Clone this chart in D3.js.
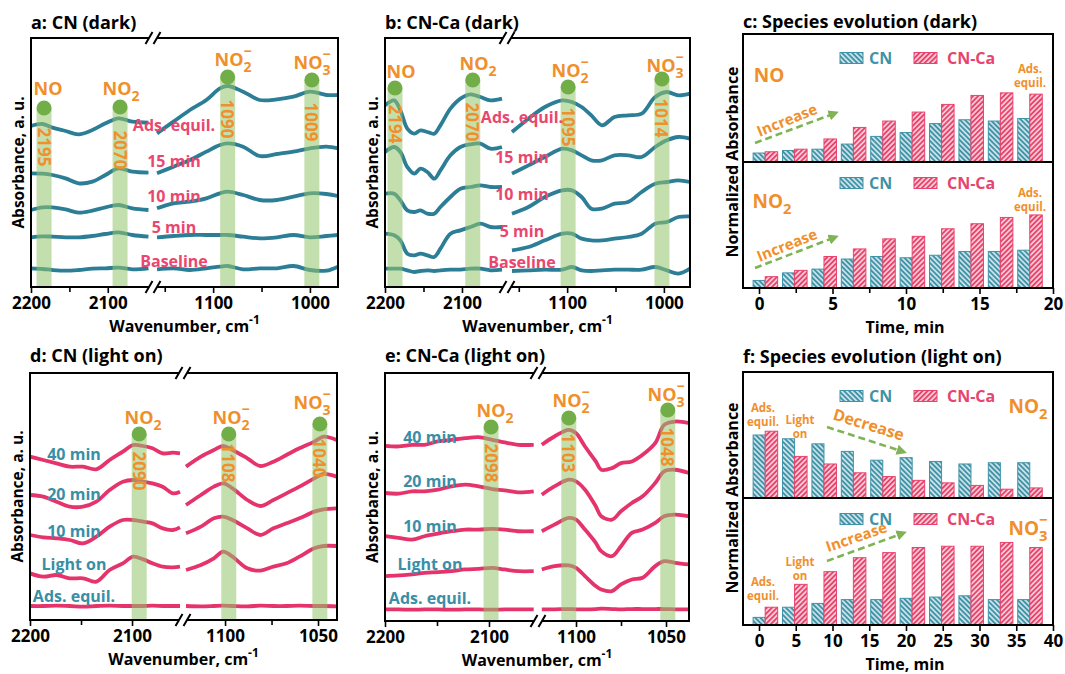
<!DOCTYPE html>
<html>
<head>
<meta charset="utf-8">
<script src="https://cdnjs.cloudflare.com/ajax/libs/d3/7.8.5/d3.min.js"></script>
<style>
  body { margin: 0; background: #fff; }
  svg { font-family: "Open Sans", sans-serif; font-weight: 700; }
</style>
</head>
<body>
<script>
/*global d3*/

// ---------- data: in-situ spectra (a.u.), one row per trace ----------
const darkLabels = ["Baseline", "5 min", "10 min", "15 min", "Ads. equil."]
const lightLabels = ["Ads. equil.", "Light on", "10 min", "20 min", "40 min"]

// a: CN (dark)
const aWnLeft = [2200, 2185, 2172, 2155, 2138, 2120, 2103, 2086, 2068, 2047]
const aWnRight = [1158, 1141, 1124, 1107, 1093, 1085, 1069, 1052, 1034, 1017, 1000, 983, 971]
const aLeft = [
    [0.56, 0.54, 0.51, 0.49, 0.51, 0.55, 0.56, 0.58, 0.53, 0.56],
    [1.49, 1.52, 1.51, 1.49, 1.49, 1.53, 1.59, 1.64, 1.56, 1.51],
    [2.31, 2.39, 2.39, 2.33, 2.23, 2.29, 2.39, 2.46, 2.36, 2.31],
    [3.41, 3.40, 3.36, 3.26, 3.11, 3.16, 3.36, 3.56, 3.46, 3.43],
    [4.83, 4.89, 4.78, 4.68, 4.58, 4.71, 4.91, 5.06, 4.96, 4.93],
]
const aRight = [
    [0.53, 0.56, 0.51, 0.56, 0.61, 0.63, 0.53, 0.56, 0.56, 0.63, 0.51, 0.49, 0.61],
    [1.49, 1.53, 1.56, 1.56, 1.56, 1.56, 1.51, 1.46, 1.49, 1.56, 1.49, 1.53, 1.56],
    [2.36, 2.51, 2.56, 2.66, 2.81, 2.86, 2.76, 2.61, 2.61, 2.71, 2.81, 2.79, 2.73],
    [3.41, 3.61, 3.81, 4.06, 4.26, 4.31, 4.21, 3.93, 3.99, 4.06, 4.16, 4.21, 4.16],
    [4.61, 4.96, 5.31, 5.61, 5.96, 6.03, 5.86, 5.61, 5.63, 5.71, 5.86, 5.76, 5.76],
]
const aBandWn = [2183, 2084, 1085, 998]
const aBandText = ["2195", "2070", "1090", "1009"]

// b: CN-Ca (dark)
const bWnLeft = [2200, 2188, 2180, 2171, 2162, 2154, 2145, 2136, 2128, 2115, 2102, 2089, 2076, 2063, 2048]
const bWnRight = [1157, 1140, 1123, 1105, 1095, 1085, 1075, 1064, 1051, 1037, 1023, 1009, 997, 985, 973]
const bLeft = [
    [0.55, 0.55, 0.55, 0.50, 0.45, 0.48, 0.50, 0.48, 0.50, 0.52, 0.52, 0.55, 0.55, 0.50, 0.52],
    [1.60, 1.55, 1.40, 1.00, 0.95, 1.00, 0.95, 0.90, 1.15, 1.60, 1.70, 1.80, 1.90, 1.80, 1.80],
    [2.80, 2.80, 2.60, 2.30, 2.25, 2.30, 2.20, 2.20, 2.40, 2.70, 2.95, 3.00, 3.05, 3.00, 3.00],
    [4.05, 4.20, 4.05, 3.60, 3.40, 3.55, 3.45, 3.25, 3.50, 3.95, 4.20, 4.28, 4.30, 4.15, 4.20],
    [5.45, 5.60, 5.30, 4.75, 4.60, 4.70, 4.65, 4.60, 4.85, 5.35, 5.65, 5.78, 5.70, 5.60, 5.65],
]
const bRight = [
    [0.48, 0.50, 0.52, 0.52, 0.60, 0.50, 0.48, 0.50, 0.52, 0.52, 0.52, 0.60, 0.50, 0.40, 0.55],
    [1.10, 1.20, 1.40, 1.60, 1.60, 1.45, 1.40, 1.40, 1.45, 1.50, 1.60, 1.90, 1.95, 2.10, 2.12],
    [2.20, 2.40, 2.70, 2.90, 2.90, 2.70, 2.35, 2.35, 2.50, 2.55, 2.85, 3.10, 3.15, 3.20, 3.15],
    [3.40, 3.65, 3.90, 4.15, 4.10, 3.95, 3.80, 3.80, 3.95, 3.95, 3.90, 4.20, 4.40, 4.50, 4.45],
    [4.65, 5.05, 5.40, 5.60, 5.55, 5.40, 5.15, 4.85, 5.10, 5.15, 5.20, 5.70, 5.85, 5.75, 5.80],
]
const bBandWn = [2187, 2086, 1099, 1002]
const bBandText = ["2194", "2070", "1095", "1014"]

// d: CN (light on)
const dWnLeft = [2200, 2187, 2174, 2161, 2148, 2135, 2122, 2109, 2099, 2089, 2080, 2070, 2060, 2053]
const dWnRight = [1121, 1113, 1106, 1101, 1096, 1088, 1081, 1074, 1067, 1060, 1052, 1047, 1040]
const dLeft = [
    [0.42, 0.42, 0.43, 0.42, 0.40, 0.42, 0.43, 0.42, 0.42, 0.42, 0.43, 0.42, 0.42, 0.42],
    [1.40, 1.30, 1.35, 1.25, 1.25, 1.15, 1.50, 1.70, 1.90, 1.82, 1.70, 1.60, 1.58, 1.60],
    [2.55, 2.48, 2.45, 2.40, 2.30, 2.50, 2.80, 3.00, 3.00, 2.95, 2.90, 2.75, 2.70, 2.78],
    [3.75, 3.70, 3.55, 3.40, 3.40, 3.55, 3.90, 4.15, 4.20, 4.15, 4.10, 4.00, 3.80, 3.85],
    [4.90, 4.80, 4.70, 4.60, 4.60, 4.52, 4.80, 5.05, 5.25, 5.22, 5.15, 5.00, 5.02, 5.00],
]
const dRight = [
    [0.42, 0.41, 0.42, 0.43, 0.42, 0.41, 0.43, 0.42, 0.42, 0.43, 0.42, 0.42, 0.41],
    [1.50, 1.65, 1.85, 2.05, 1.90, 1.55, 1.48, 1.60, 1.70, 1.90, 2.15, 2.22, 2.22],
    [2.60, 2.80, 3.05, 3.10, 3.00, 2.75, 2.55, 2.75, 2.90, 3.05, 3.25, 3.32, 3.35],
    [3.45, 3.75, 4.00, 4.10, 3.95, 3.60, 3.42, 3.60, 3.80, 4.00, 4.25, 4.38, 4.30],
    [4.60, 4.90, 5.10, 5.22, 5.10, 4.85, 4.62, 4.75, 4.95, 5.15, 5.35, 5.50, 5.40],
]
const dBandWn = [2093, 1098, 1049]
const dBandText = ["2090", "1108", "1040"]

// e: CN-Ca (light on)
const eWnLeft = [2200, 2187, 2174, 2162, 2149, 2136, 2123, 2110, 2097, 2085, 2072, 2057]
const eWnRight = [1119, 1112, 1104, 1100, 1095, 1089, 1086, 1080, 1075, 1069, 1063, 1056, 1051, 1045, 1037]
const eLeft = [
    [0.35, 0.35, 0.34, 0.35, 0.35, 0.34, 0.35, 0.35, 0.34, 0.35, 0.35, 0.35],
    [1.35, 1.37, 1.40, 1.45, 1.47, 1.50, 1.55, 1.57, 1.60, 1.55, 1.50, 1.50],
    [2.55, 2.50, 2.45, 2.55, 2.63, 2.70, 2.75, 2.75, 2.77, 2.75, 2.70, 2.70],
    [3.85, 3.83, 3.90, 3.90, 3.95, 4.05, 4.10, 4.05, 3.97, 3.93, 3.87, 3.90],
    [5.27, 5.25, 5.30, 5.30, 5.40, 5.45, 5.50, 5.53, 5.45, 5.37, 5.30, 5.30],
]
const eRight = [
    [0.35, 0.35, 0.36, 0.35, 0.35, 0.36, 0.37, 0.36, 0.35, 0.36, 0.36, 0.36, 0.36, 0.35, 0.35],
    [1.55, 1.65, 1.67, 1.60, 1.35, 1.05, 0.95, 0.90, 1.10, 1.25, 1.30, 1.65, 1.80, 1.75, 1.70],
    [2.70, 2.90, 3.10, 3.05, 2.75, 2.35, 2.10, 1.95, 2.25, 2.65, 2.75, 2.95, 3.15, 3.20, 3.15],
    [3.80, 4.05, 4.25, 4.20, 3.95, 3.45, 3.15, 3.05, 3.30, 3.55, 3.75, 4.15, 4.50, 4.55, 4.45],
    [5.30, 5.55, 5.75, 5.65, 5.25, 4.80, 4.55, 4.60, 4.75, 4.80, 5.00, 5.35, 5.90, 6.00, 5.95],
]
const eBandWn = [2098, 1104, 1049]
const eBandText = ["2098", "1103", "1048"]

// ---------- data: normalized absorbance bars ----------
const tDark = [0, 2, 4, 6, 8, 10, 12, 14, 16, 18]
const cNoCN = [0.07, 0.09, 0.10, 0.14, 0.20, 0.23, 0.30, 0.33, 0.32, 0.34]
const cNoCa = [0.08, 0.10, 0.18, 0.27, 0.32, 0.39, 0.45, 0.52, 0.54, 0.53]
const cNo2CN = [0.06, 0.12, 0.15, 0.23, 0.25, 0.24, 0.26, 0.29, 0.29, 0.30]
const cNo2Ca = [0.09, 0.14, 0.25, 0.31, 0.39, 0.41, 0.47, 0.51, 0.56, 0.58]

const tLight = [0, 4, 8, 12, 16, 20, 24, 28, 32, 36]
const fNo2CN = [0.50, 0.47, 0.43, 0.37, 0.30, 0.32, 0.29, 0.27, 0.28, 0.28]
const fNo2Ca = [0.53, 0.33, 0.27, 0.20, 0.17, 0.14, 0.12, 0.10, 0.07, 0.08]
const fNo3CN = [0.06, 0.14, 0.17, 0.20, 0.20, 0.21, 0.22, 0.23, 0.20, 0.20]
const fNo3Ca = [0.14, 0.32, 0.42, 0.53, 0.57, 0.61, 0.62, 0.62, 0.65, 0.61]

// ---------- styles ----------
const TEAL = "#2c7d96"
const PINK = "#e5346b"
const BAR_TEAL = "#3f93a8"
const BAR_PINK = "#e8436d"
const LBL_PINK = "#e9476f"
const LBL_TEAL = "#3a8ea6"
const ORANGE = "#f0902c"
const GREEN = "#72ae48"
const BAND = "rgba(148,196,108,0.55)"
const ARROW = "#7fb353"

const svg = d3.select("body").append("svg")
    .attr("width", 1065)
    .attr("height", 674)

const defs = svg.append("defs")

function hatch(id, color, angle) {
    const pt = defs.append("pattern")
        .attr("id", id)
        .attr("patternUnits", "userSpaceOnUse")
        .attr("width", 3.6).attr("height", 3.6)
        .attr("patternTransform", `rotate(${angle})`)
    pt.append("rect").attr("width", 3.6).attr("height", 3.6).attr("fill", color)
    pt.append("line")
        .attr("x1", 1.8).attr("x2", 1.8).attr("y1", 0).attr("y2", 3.6)
        .attr("stroke", "#fff").attr("stroke-width", 1.3)
}
hatch("hCN", BAR_TEAL, -45)
hatch("hCa", BAR_PINK, 45)

defs.append("marker")
    .attr("id", "arrowG")
    .attr("viewBox", "0 0 10 10")
    .attr("refX", 4).attr("refY", 5)
    .attr("markerWidth", 4).attr("markerHeight", 4)
    .attr("orient", "auto")
    .append("path").attr("d", "M0,0L10,5L0,10z").attr("fill", ARROW)

// species label in one text: NO + subscript, superscript minus stacked over it
function species(g, cx, y, sub, sup, size) {
    const t = g.append("text")
        .attr("y", y)
        .attr("font-size", size)
        .attr("fill", ORANGE)
    t.append("tspan").text("NO")
    const w = t.node().getComputedTextLength()
    let total = w
    if (sub) {
        t.append("tspan")
            .attr("dy", size * 0.32).attr("font-size", size * 0.78).text(sub)
        total = t.node().getComputedTextLength()
        if (sup) {
            const sw = total - w
            t.append("tspan")
                .attr("dx", -sw).attr("dy", -size * 0.85)
                .attr("font-size", size * 0.78).text("\u2212")
        }
    }
    t.attr("x", cx - total / 2)
}

function axisTitle(g, cx, y, main, sup) {
    const t = g.append("text")
        .attr("x", cx).attr("y", y)
        .attr("text-anchor", "middle")
        .attr("font-size", 16)
        .text(main)
    if (sup) {
        t.append("tspan").attr("dy", -8).attr("font-size", 12).text(sup)
    }
}

function yTitle(g, x, cy, text, size) {
    g.append("text")
        .attr("transform", `translate(${x},${cy}) rotate(-90)`)
        .attr("text-anchor", "middle")
        .attr("font-size", size)
        .text(text)
}

function arrow(g, x1, y1, x2, y2) {
    g.append("line")
        .attr("x1", x1).attr("y1", y1).attr("x2", x2).attr("y2", y2)
        .attr("stroke", ARROW).attr("stroke-width", 2.6)
        .attr("stroke-dasharray", "7,4")
        .attr("marker-end", "url(#arrowG)")
}

function styleAxis(ax, size) {
    ax.select(".domain").remove()
    ax.selectAll(".tick line").attr("stroke", "#000").attr("stroke-width", 1.6)
    ax.selectAll(".tick text")
        .attr("fill", "#000")
        .attr("font-size", size)
        .attr("font-family", "\"Open Sans\", sans-serif")
        .attr("font-weight", 700)
}

// ---------- spectra panels ----------
function drawSpectra(p) {
    const g = svg.append("g")
    const xL = d3.scaleLinear().domain(p.leftDomain).range(p.leftRange)
    const xR = d3.scaleLinear().domain(p.rightDomain).range(p.rightRange)
    const y = d3.scaleLinear().domain([0, p.yMax]).range([p.y1, p.y0])
    const xOf = w => (w > 1500 ? xL(w) : xR(w))

    const lineL = d3.line()
        .x((d, i) => xL(p.wnLeft[i]))
        .y(d => y(d))
        .curve(d3.curveCatmullRom.alpha(0.5))
    const lineR = d3.line()
        .x((d, i) => xR(p.wnRight[i]))
        .y(d => y(d))
        .curve(d3.curveCatmullRom.alpha(0.5))

    g.selectAll(".tl").data(p.left).join("path")
        .attr("d", lineL)
        .attr("fill", "none").attr("stroke", p.color)
        .attr("stroke-width", 3.8).attr("stroke-linejoin", "round")
    g.selectAll(".tr").data(p.right).join("path")
        .attr("d", lineR)
        .attr("fill", "none").attr("stroke", p.color)
        .attr("stroke-width", 3.8).attr("stroke-linejoin", "round")

    // marker bands
    p.bandWn.forEach((w, i) => {
        const cx = xOf(w)
        g.append("rect")
            .attr("x", cx - 7.5).attr("y", p.dotY[i])
            .attr("width", 15).attr("height", p.y1 - p.dotY[i])
            .attr("fill", BAND)
        g.append("circle")
            .attr("cx", cx).attr("cy", p.dotY[i]).attr("r", 7.5)
            .attr("fill", GREEN)
        g.append("text")
            .attr("transform", `translate(${cx},${p.bandTextY[i]}) rotate(90)`)
            .attr("text-anchor", "middle")
            .attr("dominant-baseline", "central")
            .attr("font-size", 17)
            .attr("fill", ORANGE)
            .text(p.bandText[i])
        const sp = p.species[i]
        species(g, sp.cx, sp.y, sp.sub, sp.sup, 18)
    })

    // trace labels
    p.labels.forEach((lab, i) => {
        g.append("text")
            .attr("x", p.labelX).attr("y", p.labelY[i])
            .attr("text-anchor", "middle")
            .attr("font-size", 16)
            .attr("fill", p.labelColor)
            .text(lab)
    })

    // frame with axis break
    const gap = 4
    const bx = p.bx
    const fr = d3.path()
    fr.moveTo(bx - gap, p.y0); fr.lineTo(p.x0, p.y0); fr.lineTo(p.x0, p.y1); fr.lineTo(bx - gap, p.y1)
    fr.moveTo(bx + gap, p.y0); fr.lineTo(p.x1, p.y0); fr.lineTo(p.x1, p.y1); fr.lineTo(bx + gap, p.y1)
    ;[p.y0, p.y1].forEach(yy => {
        ;[-gap, gap].forEach(o => {
            fr.moveTo(bx + o - 3.5, yy + 6)
            fr.lineTo(bx + o + 3.5, yy - 6)
        })
    })
    g.append("path").attr("d", fr.toString())
        .attr("fill", "none").attr("stroke", "#000").attr("stroke-width", 2)

    // ticks
    const axL = g.append("g").attr("transform", `translate(0,${p.y1})`)
        .call(d3.axisBottom(xL).tickValues(p.majorLeft).tickSize(6).tickPadding(4).tickFormat(d3.format("d")))
    const axR = g.append("g").attr("transform", `translate(0,${p.y1})`)
        .call(d3.axisBottom(xR).tickValues(p.majorRight).tickSize(6).tickPadding(4).tickFormat(d3.format("d")))
    const axLm = g.append("g").attr("transform", `translate(0,${p.y1})`)
        .call(d3.axisBottom(xL).tickValues(p.minorLeft).tickSize(5).tickFormat(""))
    const axRm = g.append("g").attr("transform", `translate(0,${p.y1})`)
        .call(d3.axisBottom(xR).tickValues(p.minorRight).tickSize(5).tickFormat(""))
    ;[axL, axR, axLm, axRm].forEach(a => styleAxis(a, 17))

    g.append("text").attr("x", p.x0).attr("y", p.titleY).attr("font-size", 18).text(p.title)
    axisTitle(g, (p.x0 + p.x1) / 2, p.y1 + 45, "Wavenumber, cm", "-1")
    yTitle(g, p.x0 - 7, (p.y0 + p.y1) / 2, "Absorbance, a. u.", 15.5)
}

drawSpectra({
    title: "a: CN (dark)", titleY: 29,
    x0: 31, x1: 338, y0: 38, y1: 287, bx: 153,
    leftDomain: [2200, 2045], leftRange: [31, 150],
    rightDomain: [1158, 971], rightRange: [157, 338],
    yMax: 7.47,
    wnLeft: aWnLeft, wnRight: aWnRight, left: aLeft, right: aRight,
    color: TEAL,
    majorLeft: [2200, 2100], minorLeft: [2150],
    majorRight: [1100, 1000], minorRight: [1150, 1050],
    bandWn: aBandWn, bandText: aBandText,
    dotY: [108, 107, 77, 80], bandTextY: [147, 150, 119, 122],
    species: [
        { cx: 48, y: 95 }, { cx: 121, y: 95, sub: "2" },
        { cx: 233, y: 66, sub: "2", sup: true }, { cx: 312, y: 69, sub: "3", sup: true },
    ],
    labels: darkLabels, labelX: 174, labelY: [267, 233, 202, 167, 131], labelColor: LBL_PINK,
})

drawSpectra({
    title: "b: CN-Ca (dark)", titleY: 29,
    x0: 385, x1: 690, y0: 38, y1: 287, bx: 507,
    leftDomain: [2200, 2048], leftRange: [385, 502],
    rightDomain: [1157, 973], rightRange: [512, 690],
    yMax: 7.47,
    wnLeft: bWnLeft, wnRight: bWnRight, left: bLeft, right: bRight,
    color: TEAL,
    majorLeft: [2200, 2100], minorLeft: [2150],
    majorRight: [1100, 1000], minorRight: [1150, 1050],
    bandWn: bBandWn, bandText: bBandText,
    dotY: [88, 80, 87, 79], bandTextY: [124, 122, 127, 118],
    species: [
        { cx: 401, y: 78 }, { cx: 478, y: 70, sub: "2" },
        { cx: 570, y: 77, sub: "2", sup: true }, { cx: 665, y: 72, sub: "3", sup: true },
    ],
    labels: darkLabels, labelX: 522, labelY: [268, 237, 200, 163, 123], labelColor: LBL_PINK,
})

drawSpectra({
    title: "d: CN (light on)", titleY: 362,
    x0: 30, x1: 337, y0: 373, y1: 620, bx: 183,
    leftDomain: [2200, 2053], leftRange: [30, 180],
    rightDomain: [1121, 1040], rightRange: [186, 336.6],
    yMax: 7.41,
    wnLeft: dWnLeft, wnRight: dWnRight, left: dLeft, right: dRight,
    color: PINK,
    majorLeft: [2200, 2100], minorLeft: [2150],
    majorRight: [1100, 1050], minorRight: [1075],
    bandWn: dBandWn, bandText: dBandText,
    dotY: [434, 434, 424], bandTextY: [471, 463, 458],
    species: [
        { cx: 143, y: 424, sub: "2" }, { cx: 231, y: 424, sub: "2", sup: true },
        { cx: 312, y: 409, sub: "3", sup: true },
    ],
    labels: lightLabels, labelX: 74, labelY: [602, 570, 537, 500, 460], labelColor: LBL_TEAL,
})

drawSpectra({
    title: "e: CN-Ca (light on)", titleY: 362,
    x0: 385, x1: 689, y0: 373, y1: 621, bx: 538,
    leftDomain: [2200, 2057], leftRange: [385, 533.7],
    rightDomain: [1119, 1037], rightRange: [541.8, 689.4],
    yMax: 7.46,
    wnLeft: eWnLeft, wnRight: eWnRight, left: eLeft, right: eRight,
    color: PINK,
    majorLeft: [2200, 2100], minorLeft: [2150],
    majorRight: [1100, 1050], minorRight: [1075],
    bandWn: eBandWn, bandText: eBandText,
    dotY: [427, 418, 410], bandTextY: [463, 453, 447],
    species: [
        { cx: 495, y: 417, sub: "2" }, { cx: 571, y: 407, sub: "2", sup: true },
        { cx: 666, y: 401, sub: "3", sup: true },
    ],
    labels: lightLabels, labelX: 430, labelY: [604, 570, 532, 487, 443], labelColor: LBL_TEAL,
})

// ---------- bar panels ----------
function legend(g, y) {
    g.append("rect").attr("x", 840).attr("y", y - 5.5).attr("width", 23).attr("height", 11)
        .attr("fill", "url(#hCN)").attr("stroke", BAR_TEAL).attr("stroke-width", 1)
    g.append("text").attr("x", 869).attr("y", y + 6).attr("font-size", 16).attr("fill", BAR_TEAL).text("CN")
    g.append("rect").attr("x", 914).attr("y", y - 5.5).attr("width", 23).attr("height", 11)
        .attr("fill", "url(#hCa)").attr("stroke", BAR_PINK).attr("stroke-width", 1)
    g.append("text").attr("x", 947).attr("y", y + 6).attr("font-size", 16).attr("fill", BAR_PINK).text("CN-Ca")
}

function smallNote(g, cx, y, lines) {
    lines.forEach((l, i) => {
        g.append("text").attr("x", cx).attr("y", y + i * 14)
            .attr("text-anchor", "middle").attr("font-size", 11.5)
            .attr("fill", ORANGE).text(l)
    })
}

function slanted(g, cx, cy, angle, text, size) {
    g.append("text")
        .attr("transform", `translate(${cx},${cy}) rotate(${angle})`)
        .attr("text-anchor", "middle")
        .attr("font-size", size)
        .attr("fill", ORANGE)
        .text(text)
}

function drawBars(p) {
    const g = svg.append("g")
    const x = d3.scaleLinear().domain(p.xDomain).range([759, 1053])
    const yTop = d3.scaleLinear().domain([0, 1]).range([p.mid, p.y0])
    const yBot = d3.scaleLinear().domain([0, 1]).range([p.y1, p.mid])
    const s = p.step
    const sets = [
        [p.topCN, yTop, "url(#hCN)", BAR_TEAL, -0.2, 0.21],
        [p.topCa, yTop, "url(#hCa)", BAR_PINK, 0.21, 0.635],
        [p.botCN, yBot, "url(#hCN)", BAR_TEAL, -0.2, 0.21],
        [p.botCa, yBot, "url(#hCa)", BAR_PINK, 0.21, 0.635],
    ]
    sets.forEach(([vals, ys, fill, stroke, a, b]) => {
        g.append("g").selectAll("rect").data(vals).join("rect")
            .attr("x", (d, i) => x(p.times[i] + a * s))
            .attr("width", (d, i) => x(p.times[i] + b * s) - x(p.times[i] + a * s))
            .attr("y", d => ys(d))
            .attr("height", d => ys(0) - ys(d))
            .attr("fill", fill)
            .attr("stroke", stroke).attr("stroke-width", 1)
    })

    // frame
    g.append("rect").attr("x", 743).attr("y", p.y0).attr("width", 310).attr("height", p.y1 - p.y0)
        .attr("fill", "none").attr("stroke", "#000").attr("stroke-width", 2)
    g.append("line").attr("x1", 743).attr("x2", 1053).attr("y1", p.mid).attr("y2", p.mid)
        .attr("stroke", "#000").attr("stroke-width", 2)

    const ax = g.append("g").attr("transform", `translate(0,${p.y1})`)
        .call(d3.axisBottom(x).tickValues(p.major).tickSize(6).tickPadding(4).tickFormat(d3.format("d")))
    const axm = g.append("g").attr("transform", `translate(0,${p.y1})`)
        .call(d3.axisBottom(x).tickValues(p.minor).tickSize(5).tickFormat(""))
    styleAxis(ax, 17)
    styleAxis(axm, 17)

    legend(g, p.y0 + 24)
    legend(g, p.mid + 21)

    g.append("text").attr("x", 743).attr("y", p.titleY).attr("font-size", 18).text(p.title)
    axisTitle(g, 905, p.y1 + 45, "Time, min")
    yTitle(g, 738, p.mid, "Normalized Absorbance", 16)
    return g
}

const gc = drawBars({
    title: "c: Species evolution (dark)", titleY: 28,
    y0: 34, mid: 162, y1: 288,
    xDomain: [0, 20], step: 2, times: tDark,
    major: [0, 5, 10, 15, 20], minor: [2.5, 7.5, 12.5, 17.5],
    topCN: cNoCN, topCa: cNoCa, botCN: cNo2CN, botCa: cNo2Ca,
})
species(gc, 769, 82, null, false, 19)
species(gc, 772, 208, "2", false, 19)
smallNote(gc, 1030, 73, ["Ads.", "equil."])
smallNote(gc, 1030, 197, ["Ads.", "equil."])
arrow(gc, 755, 143, 833, 114)
slanted(gc, 789, 125, -22, "Increase", 15)
arrow(gc, 755, 268, 833, 238)
slanted(gc, 789, 250, -22, "Increase", 15)

const gf = drawBars({
    title: "f: Species evolution (light on)", titleY: 363,
    y0: 372, mid: 498, y1: 625,
    xDomain: [0, 40], step: 4, times: tLight,
    major: [0, 5, 10, 15, 20, 25, 30, 35, 40], minor: [],
    topCN: fNo2CN, topCa: fNo2Ca, botCN: fNo3CN, botCa: fNo3Ca,
})
species(gf, 1028, 413, "2", false, 19)
species(gf, 1028, 535, "3", true, 19)
smallNote(gf, 763, 412, ["Ads.", "equil."])
smallNote(gf, 800, 424, ["Light", "on"])
smallNote(gf, 763, 586, ["Ads.", "equil."])
smallNote(gf, 800, 566, ["Light", "on"])
arrow(gf, 827, 427, 901, 451)
slanted(gf, 867, 430, 17, "Decrease", 16)
arrow(gf, 827, 561, 901, 534)
slanted(gf, 858, 542, -19, "Increase", 15)
</script>
</body>
</html>
